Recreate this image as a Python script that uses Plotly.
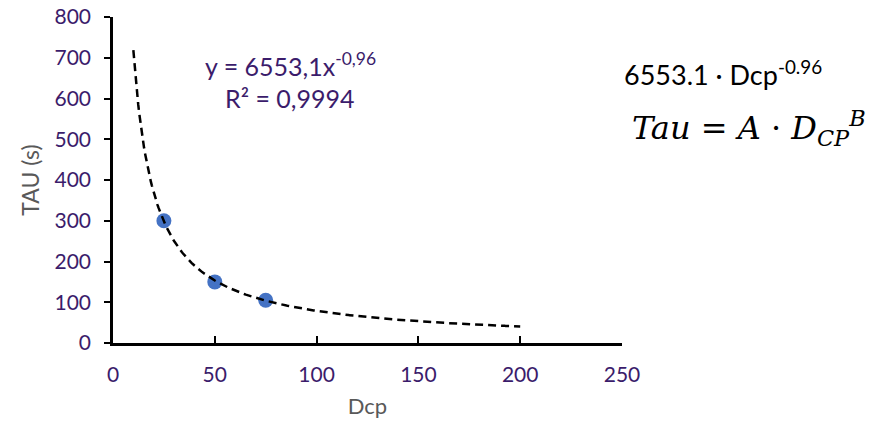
import numpy as np
import plotly.graph_objects as go

# Measured points
dcp = [25, 50, 75]
tau = [300, 150, 105]

# Power-law fit parameters (Tau = A * Dcp^B)
A = 6553.1
B = -0.96
r_squared = "0,9994"
fit_range = [10, 200]

x_ticks = [0, 50, 100, 150, 200, 250]
y_ticks = [0, 100, 200, 300, 400, 500, 600, 700, 800]

tick_color = "#3B1C6B"
title_color = "#595959"
font_family = "Lato, Calibri, 'Open Sans', sans-serif"

xf = np.linspace(fit_range[0], fit_range[1], 400)
yf = A * xf ** B

fig = go.Figure()
fig.add_trace(go.Scatter(
    x=dcp, y=tau, mode="markers",
    marker=dict(color="#4472C4", size=15),
    showlegend=False,
))
fig.add_trace(go.Scatter(
    x=xf, y=yf, mode="lines",
    line=dict(color="black", width=2.5, dash="8px,5px"),
    hoverinfo="skip", showlegend=False,
))

fig.update_layout(
    width=887, height=428,
    margin=dict(l=113, r=265, t=17, b=85, autoexpand=False),
    paper_bgcolor="white", plot_bgcolor="white",
    font=dict(family=font_family, size=21, color=tick_color),
    xaxis=dict(
        range=[0, 250], tickvals=x_ticks, showgrid=False, zeroline=False,
        showline=True, linecolor="black", linewidth=2.5, automargin=False,
        ticks="inside", ticklen=7, tickwidth=2, tickcolor="black",
        ticklabelstandoff=11,
        tickfont=dict(size=21, color=tick_color),
        title=dict(text="Dcp", font=dict(size=22, color=title_color), standoff=14),
    ),
    yaxis=dict(
        range=[0, 800], tickvals=y_ticks, showgrid=False, zeroline=False,
        showline=True, linecolor="black", linewidth=2.5, automargin=False,
        ticks="outside", ticklen=6, tickwidth=2, tickcolor="black",
        ticklabelstandoff=9,
        tickfont=dict(size=21, color=tick_color),
        title=dict(text="TAU (s)", font=dict(size=23, color=title_color), standoff=9),
    ),
)

# Fit equation and R² inside the plot area
fig.add_annotation(
    x=0.348, y=0.853, xref="paper", yref="paper", yanchor="middle", showarrow=False,
    text=f"y = {str(A).replace('.', ',')}x<sup>{str(B).replace('.', ',')}</sup>",
    font=dict(size=25, color=tick_color),
)
fig.add_annotation(
    x=0.348, y=0.752, xref="paper", yref="paper", yanchor="middle", showarrow=False,
    text=f"R² = {r_squared}",
    font=dict(size=25, color=tick_color),
)

# Model expression to the right of the chart
fig.add_annotation(
    x=1.0, y=0.827, xref="paper", yref="paper", xanchor="left", yanchor="middle",
    showarrow=False,
    text=f"{A} · Dcp<sup>{B}</sup>",
    font=dict(size=27, color="black"),
)
fig.add_annotation(
    x=1.015, y=0.66, xref="paper", yref="paper", xanchor="left", yanchor="middle",
    showarrow=False,
    text="<i>Tau</i> = <i>A</i> · <i>D<sub>CP</sub></i><sup><i>B</i></sup>",
    font=dict(size=32, color="black", family="'DejaVu Serif', 'Liberation Serif', serif"),
)

fig.write_html("out.html")
